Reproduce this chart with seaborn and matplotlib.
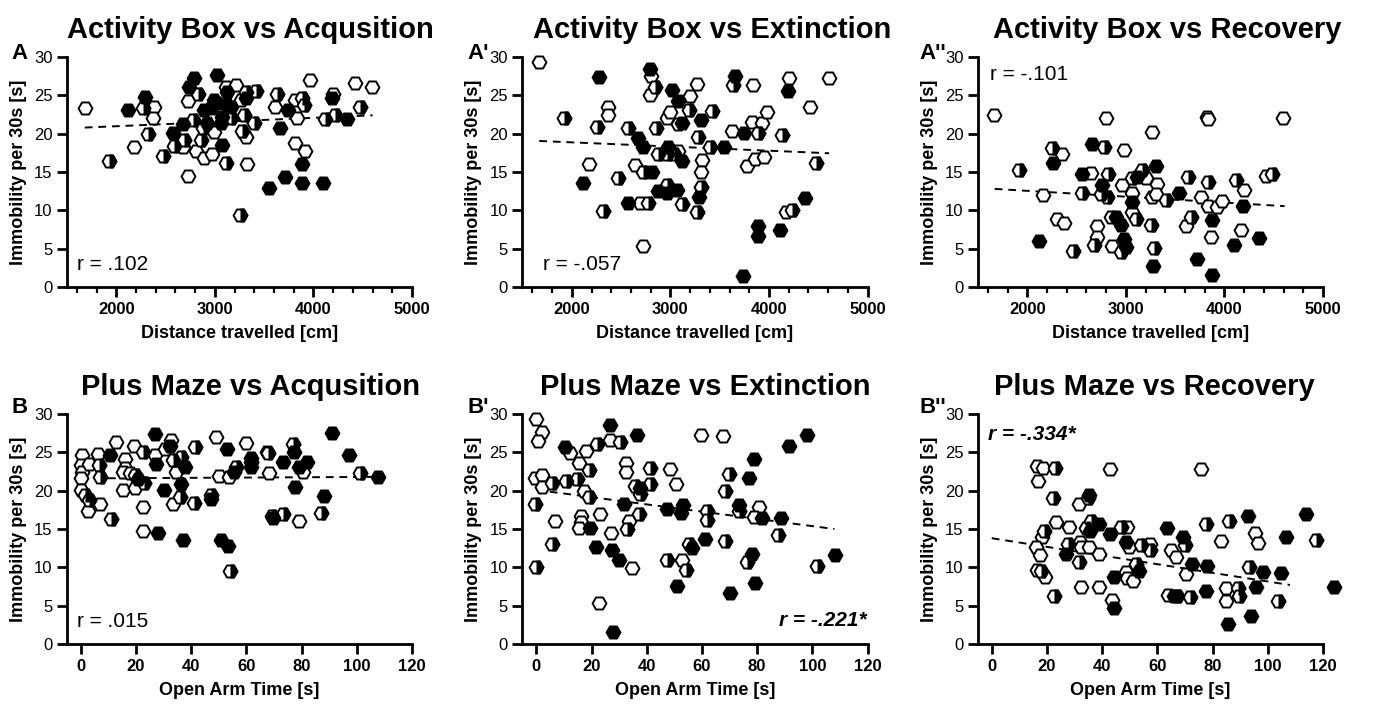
import matplotlib
matplotlib.use("Agg")
import matplotlib.pyplot as plt
from matplotlib.markers import MarkerStyle
from matplotlib.ticker import MultipleLocator
import pandas as pd
import seaborn as sns

# values: (x, y) per marker group
# A: distance travelled vs acquisition
a_open = [(1680, 23.4), (2387, 23.5), (2370, 22.0), (2178, 18.2), (2673, 18.3), (2723, 14.5),
          (2723, 24.2), (2807, 17.7), (2891, 16.8), (2975, 17.4), (2992, 20.2), (2958, 22.2),
          (3110, 26.1), (3211, 26.3), (3261, 24.4), (3312, 19.6), (3322, 16.1), (3614, 23.5),
          (3816, 24.4), (3833, 22.0), (3816, 18.8), (3917, 17.8), (3968, 27.0), (4196, 25.2),
          (4422, 26.6), (4590, 26.1)]
a_half = [(1923, 16.5), (2269, 23.3), (2320, 19.9), (2471, 17.1), (2589, 18.4), (2690, 19.2),
          (2824, 25.2), (2774, 21.8), (2858, 19.2), (2875, 20.7), (3110, 16.2), (3160, 22.0),
          (3312, 25.5), (3295, 22.5), (3278, 20.4), (3396, 21.4), (3413, 25.6), (3255, 9.4),
          (3625, 25.2), (3884, 24.6), (3907, 23.8), (4119, 21.9), (4220, 22.5), (4472, 23.5)]
a_filled = [(2118, 23.1), (2286, 24.8), (2572, 20.1), (2673, 21.3), (2790, 27.3), (2740, 26.1),
            (2891, 23.1), (3019, 27.6), (2958, 23.3), (3026, 24.0), (2992, 24.4), (2925, 21.4),
            (3059, 21.4), (3076, 22.2), (3076, 18.5), (3127, 25.5), (3160, 23.5), (3127, 23.8),
            (3312, 24.6), (3547, 12.9), (3658, 20.8), (3715, 14.4), (3739, 23.1), (3884, 16.1),
            (3884, 13.6), (4096, 13.6), (4186, 24.6), (4344, 21.9)]

# A': distance travelled vs extinction
a1_open = [(1669, 29.4), (2372, 23.5), (2372, 22.5), (2176, 16.0), (2643, 15.9), (2693, 10.9),
           (2720, 5.3), (2805, 27.5), (2795, 25.1), (2964, 22.0), (2998, 22.8), (3082, 17.8),
           (3082, 21.3), (3201, 24.9), (3268, 26.5), (3319, 16.6), (3309, 15.0), (3623, 20.3),
           (3843, 26.4), (3775, 15.8), (3860, 16.7), (3826, 21.5), (3928, 21.4), (3978, 22.8),
           (3945, 17.0), (4175, 9.8), (4208, 27.3), (4418, 23.5), (4604, 27.3)]
a1_half = [(1922, 22.1), (2260, 20.9), (2321, 9.9), (2473, 14.2), (2575, 20.8), (2720, 15.0),
           (2778, 11.0), (2846, 26.1), (2856, 20.8), (2879, 17.4), (3032, 17.4), (2964, 17.4),
           (3184, 23.1), (2964, 13.3), (3116, 10.8), (3268, 9.8), (3285, 19.6), (3309, 13.1),
           (3403, 18.3), (3420, 22.9), (3640, 26.3), (3887, 20.1), (4131, 19.8), (4232, 10.1),
           (4479, 16.2)]
a1_filled = [(2281, 27.4), (2118, 13.6), (2676, 19.5), (2727, 18.3), (2812, 15.0), (2575, 10.9),
             (2795, 28.4), (3015, 25.7), (3082, 24.2), (2981, 18.3), (3123, 21.4), (3116, 16.4),
             (2879, 12.5), (2964, 12.2), (3065, 12.6), (3309, 21.8), (3292, 11.8), (3545, 18.2),
             (3657, 27.5), (3742, 20.1), (3887, 7.9), (3887, 6.6), (3735, 1.5), (4107, 7.5),
             (4198, 25.6), (4361, 11.6)]

# A'': distance travelled vs recovery
a2_open = [(1662, 22.4), (2162, 12.0), (2355, 17.3), (2304, 8.9), (2372, 8.4), (2643, 14.9),
           (2802, 22.0), (2710, 7.9), (2710, 6.5), (2862, 5.3), (2846, 9.2), (2981, 17.9),
           (2964, 13.3), (3065, 12.3), (3065, 9.8), (3201, 14.2), (3261, 20.2), (3268, 11.8),
           (3319, 13.5), (3302, 12.1), (3606, 7.9), (3758, 11.8), (3819, 22.2), (3836, 21.9),
           (3836, 10.6), (3860, 6.5), (3928, 10.5), (3978, 11.2), (4164, 7.5), (4198, 12.6),
           (4418, 14.5), (4594, 22.0)]
a2_half = [(1915, 15.2), (2254, 18.1), (2463, 4.7), (2558, 12.3), (2778, 18.2), (2822, 14.7),
           (2812, 11.7), (2744, 12.1), (2676, 5.5), (2947, 4.6), (3065, 14.2), (3099, 8.9),
           (3167, 15.2), (3251, 8.1), (3285, 5.1), (3403, 11.3), (3657, 9.1), (3633, 14.4),
           (3836, 13.7), (4120, 14.0), (4479, 14.7)]
a2_filled = [(2118, 6.0), (2260, 16.2), (2558, 14.7), (2659, 18.7), (2761, 13.3), (2896, 9.2),
             (2947, 8.1), (2981, 6.3), (2998, 5.2), (3059, 11.1), (3116, 14.4), (3275, 2.7),
             (3302, 15.8), (3539, 12.3), (3718, 3.7), (3877, 8.7), (3877, 1.6), (4097, 5.5),
             (4188, 10.6), (4350, 6.4)]

# B: open arm time vs acquisition
b_open = [(0.4, 24.7), (0, 23.3), (0.4, 22.5), (0.1, 21.6), (0.1, 20.1), (2.5, 17.4), (2.8, 23.5),
          (6.4, 24.8), (7.0, 18.3), (12.7, 26.3), (16.0, 24.1), (16.0, 23.0), (15.4, 22.5),
          (15.4, 20.1), (17.8, 22.3), (19.3, 25.8), (19.6, 20.3), (22.6, 17.9), (22.6, 14.7),
          (26.8, 24.7), (30.4, 25.4), (32.8, 26.6), (34.6, 22.5), (33.4, 18.3), (49.0, 27.0),
          (50.2, 21.9), (53.8, 21.8), (59.8, 26.2), (67.6, 25.1), (68.2, 22.3), (80.5, 22.5),
          (79.0, 16.0)]
b_half = [(1.6, 19.4), (3.0, 18.8), (6.6, 23.3), (7.0, 21.8), (10.9, 16.3), (19.6, 22.0),
          (22.9, 21.0), (22.6, 25.1), (33.4, 24.0), (35.8, 19.2), (36.4, 24.4), (40.9, 18.4),
          (41.2, 25.7), (47.2, 19.4), (54.1, 9.5), (56.2, 23.1), (61.8, 23.7), (67.9, 24.9),
          (69.4, 16.7), (73.3, 16.9), (76.9, 26.1), (87.1, 17.1), (101.2, 22.3)]
b_filled = [(10.6, 24.7), (20.8, 21.5), (26.8, 27.4), (27.4, 23.5), (28.0, 14.5), (30.0, 20.1),
            (32.2, 25.8), (36.4, 20.9), (37.0, 13.6), (37.6, 23.1), (47.2, 18.9), (50.8, 13.6),
            (53.2, 12.8), (52.9, 25.5), (55.6, 22.5), (61.6, 24.2), (61.6, 23.1), (69.7, 16.4),
            (73.2, 23.8), (77.2, 25.0), (77.5, 20.5), (78.9, 23.1), (82.0, 23.7), (88.2, 19.3),
            (91.0, 27.5), (97.3, 24.7), (107.5, 21.8)]

# B': open arm time vs extinction
b1_open = [(0, 29.4), (2.1, 27.6), (0.5, 26.5), (-0.4, 21.7), (2.1, 22.0), (2.1, 20.5), (6.6, 16.0),
           (12.3, 24.9), (15.3, 23.6), (16.2, 16.7), (16.2, 15.9), (15.3, 15.1), (18.1, 25.2),
           (17.4, 19.9), (22.9, 17.0), (22.6, 5.4), (26.6, 26.6), (27.2, 14.5), (32.6, 23.6),
           (32.6, 22.5), (33.5, 16.0), (34.6, 9.9), (48.6, 22.8), (50.7, 20.9), (52.8, 11.0),
           (59.6, 27.3), (67.6, 27.1), (80.5, 17.9), (78.7, 16.6)]
b1_half = [(-0.4, 18.3), (0, 10.0), (5.7, 21.0), (5.7, 13.1), (10.9, 21.2), (14.9, 21.5),
           (19.0, 22.7), (19.0, 19.2), (22.0, 26.1), (30.2, 26.3), (32.9, 15.0), (35.9, 20.6),
           (37.7, 19.6), (37.1, 17.0), (41.3, 22.9), (41.3, 20.9), (47.3, 11.0), (54.3, 9.7),
           (55.2, 13.0), (61.8, 17.3), (61.8, 16.2), (68.5, 20.0), (69.7, 22.2), (68.5, 13.5),
           (73.6, 17.4), (76.3, 10.7), (87.4, 14.2), (101.7, 10.2)]
b1_filled = [(10.5, 25.7), (19.6, 15.1), (21.7, 12.7), (26.8, 28.6), (27.4, 12.2), (29.8, 11.0),
             (27.8, 1.6), (31.6, 18.3), (36.5, 27.3), (37.7, 20.3), (47.3, 17.6), (51.0, 7.6),
             (53.1, 18.1), (52.4, 17.1), (56.4, 12.5), (61.2, 13.7), (70.0, 6.7), (73.3, 18.1),
             (77.0, 21.6), (78.7, 24.1), (78.1, 11.7), (79.3, 7.9), (81.7, 16.4), (88.6, 16.5),
             (91.4, 25.8), (98.0, 27.3), (108.3, 11.6)]

# B'': open arm time vs recovery
b2_open = [(16.5, 23.2), (18.6, 22.9), (16.8, 21.2), (23.4, 15.9), (18.2, 13.9), (16.2, 12.7),
           (17.4, 11.6), (16.5, 9.7), (19.2, 8.8), (28.1, 15.3), (31.7, 18.2), (32.1, 13.3),
           (32.3, 12.7), (32.3, 7.4), (35.3, 12.7), (39.0, 11.8), (39.0, 7.5), (42.9, 22.8),
           (43.5, 5.8), (49.1, 15.3), (49.7, 12.7), (48.5, 9.4), (48.9, 8.6), (51.3, 8.2),
           (57.5, 13.1), (64.9, 12.3), (66.8, 11.4), (63.7, 6.4), (70.4, 9.1), (75.7, 22.8),
           (83.2, 13.4), (84.8, 7.3), (84.8, 5.6), (95.2, 14.5), (96.4, 13.2)]
b2_half = [(22.8, 23.0), (22.2, 19.0), (18.9, 14.7), (17.7, 9.5), (22.5, 6.3), (27.5, 13.1),
           (34.7, 19.0), (31.7, 10.7), (34.1, 15.1), (35.9, 16.1), (46.7, 15.3), (52.1, 10.5),
           (54.1, 12.9), (57.5, 12.3), (67.1, 6.3), (70.1, 12.9), (71.9, 6.1), (77.6, 15.6),
           (86.0, 16.0), (89.2, 7.3), (89.5, 6.3), (93.2, 10.0), (103.6, 5.6), (117.4, 13.6)]
b2_filled = [(26.9, 11.7), (35.3, 19.4), (35.7, 14.7), (39.0, 15.6), (42.9, 14.3), (44.3, 8.8),
             (44.3, 4.7), (48.5, 13.3), (53.3, 9.5), (63.5, 15.1), (66.1, 6.3), (69.2, 14.0),
             (72.5, 10.4), (77.8, 10.2), (77.6, 6.9), (85.6, 2.6), (92.8, 16.7), (98.2, 9.4),
             (95.6, 7.5), (94.0, 3.7), (104.8, 9.2), (106.6, 13.9), (113.8, 17.0), (123.9, 7.4)]

# regression lines: (x start, x end), (y start, y end)
fit_a = [(1680, 4600), (20.8, 22.4)]
fit_a1 = [(1670, 4610), (19.05, 17.45)]
fit_a2 = [(1670, 4610), (12.8, 10.55)]
fit_b = [(0, 107), (21.6, 21.8)]
fit_b1 = [(0, 108), (20.1, 15.0)]
fit_b2 = [(0, 108), (13.8, 7.7)]

titles = ["Activity Box vs Acqusition", "Activity Box vs Extinction", "Activity Box vs Recovery",
          "Plus Maze vs Acqusition", "Plus Maze vs Extinction", "Plus Maze vs Recovery"]
letters = ["A", "A'", "A''", "B", "B'", "B''"]
r_labels = ["r = .102", "r = -.057", "r = -.101", "r = .015", "r = -.221*", "r = -.334*"]
significant = [False, False, False, False, True, True]

sns.set_style("ticks")
plt.rcParams["font.family"] = ["Liberation Sans", "DejaVu Sans"]
plt.rcParams["text.color"] = "black"
plt.rcParams["axes.labelcolor"] = "black"
plt.rcParams["xtick.color"] = "black"
plt.rcParams["ytick.color"] = "black"

fig, axes = plt.subplots(2, 3, figsize=(13.76, 7.04), dpi=100)
fig.subplots_adjust(left=0.0487, right=0.9615, top=0.919, bottom=0.0852, wspace=0.32, hspace=0.552)

panels = [
    (a_open, a_half, a_filled, fit_a), (a1_open, a1_half, a1_filled, fit_a1),
    (a2_open, a2_half, a2_filled, fit_a2), (b_open, b_half, b_filled, fit_b),
    (b1_open, b1_half, b1_filled, fit_b1), (b2_open, b2_half, b2_filled, fit_b2),
]
title_x = [0.53, 0.55, 0.55, 0.533, 0.53, 0.51]
r_pos = [(0.03, 0.075, "left"), (0.058, 0.075, "left"), (0.035, 0.9, "left"),
         (0.03, 0.075, "left"), (0.997, 0.078, "right"), (0.03, 0.887, "left")]
letter_pos = [(0.008, 0.916), (0.340, 0.916), (0.668, 0.916),
              (0.008, 0.413), (0.340, 0.413), (0.668, 0.413)]

half_marker = MarkerStyle("H", fillstyle="right")
msize = 100
mlw = 1.4

for i, ax in enumerate(axes.flat):
    open_pts, half_pts, filled_pts, fit = panels[i]
    ax.plot(fit[0], fit[1], color="black", lw=1.4, ls=(0, (4, 3)), zorder=2)

    d_open = pd.DataFrame(open_pts, columns=["x", "y"])
    d_half = pd.DataFrame(half_pts, columns=["x", "y"])
    d_fill = pd.DataFrame(filled_pts, columns=["x", "y"])
    kw = dict(x="x", y="y", s=msize, linewidth=mlw, edgecolor="black", ax=ax,
              clip_on=False, legend=False)
    sns.scatterplot(data=d_open, marker="H", color="white", zorder=3, **kw)
    sns.scatterplot(data=d_half, marker="H", color="white", zorder=4, **kw)
    sns.scatterplot(data=d_half, marker=half_marker, color="black", zorder=4, **kw)
    sns.scatterplot(data=d_fill, marker="H", color="black", zorder=5, **kw)

    ax.set_ylim(0, 30)
    ax.yaxis.set_major_locator(MultipleLocator(5))
    if i < 3:
        ax.set_xlim(1500, 5000)
        ax.set_xticks([2000, 3000, 4000, 5000])
        ax.xaxis.set_minor_locator(MultipleLocator(200))
        ax.set_xlabel("Distance travelled [cm]", fontsize=13, fontweight="bold", labelpad=6)
    else:
        ax.set_xlim(-5, 120)
        ax.set_xticks(range(0, 121, 20))
        ax.set_xlabel("Open Arm Time [s]", fontsize=13, fontweight="bold", labelpad=6)
    ax.set_ylabel("Immobility per 30s [s]", fontsize=13, fontweight="bold", labelpad=5)

    sns.despine(ax=ax)
    for side in ["left", "bottom"]:
        ax.spines[side].set_linewidth(2)
        ax.spines[side].set_color("black")
    ax.tick_params(which="major", direction="out", length=7, width=2, labelsize=12,
                   color="black", labelcolor="black")
    ax.tick_params(which="minor", direction="out", length=4, width=1.6, color="black")
    plt.setp(ax.get_xticklabels(), fontweight="bold")

    ax.set_title(titles[i], fontsize=21, fontweight="bold", pad=14, x=title_x[i], color="black")
    rx, ry, ha = r_pos[i]
    if significant[i]:
        ax.text(rx, ry, r_labels[i], transform=ax.transAxes, fontsize=15, ha=ha,
                va="baseline", fontweight="bold", fontstyle="italic")
    else:
        ax.text(rx, ry, r_labels[i], transform=ax.transAxes, fontsize=15, ha=ha, va="baseline")
    fig.text(letter_pos[i][0], letter_pos[i][1], letters[i], fontsize=16, fontweight="bold",
             va="baseline")

fig.savefig("out.png", dpi=100)
